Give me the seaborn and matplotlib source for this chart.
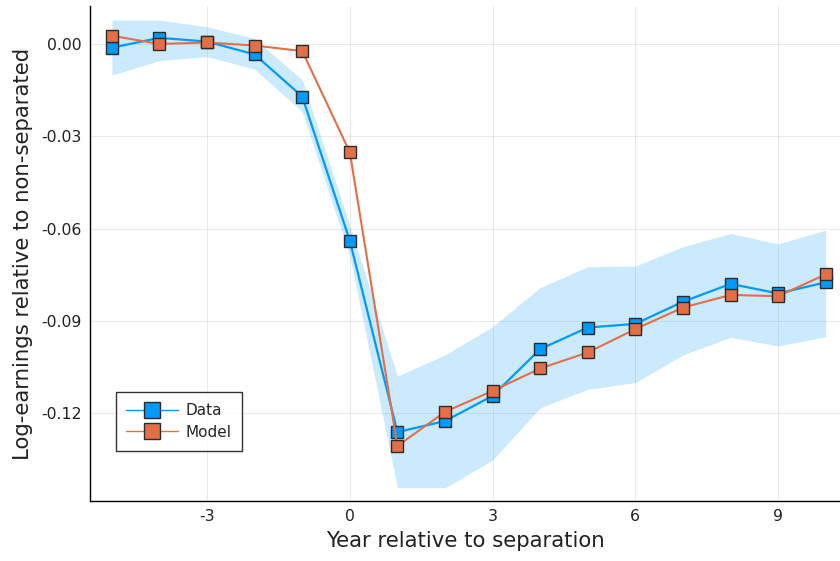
import numpy as np
import pandas as pd
import matplotlib
matplotlib.use("Agg")
import matplotlib.pyplot as plt
import seaborn as sns

years = [-5, -4, -3, -2, -1, 0, 1, 2, 3, 4, 5, 6, 7, 8, 9, 10]
data_vals = [-0.0012, 0.0020, 0.0008, -0.0034, -0.0171, -0.0640, -0.1262, -0.1226,
             -0.1144, -0.0992, -0.0922, -0.0910, -0.0838, -0.0780, -0.0811, -0.0775]
model_vals = [0.0027, 0.0000, 0.0005, -0.0005, -0.0023, -0.0352, -0.1307, -0.1196,
              -0.1128, -0.1055, -0.1003, -0.0927, -0.0857, -0.0816, -0.0820, -0.0749]
band_upper = [0.0078, 0.0078, 0.0056, 0.0018, -0.0117, -0.0590, -0.1080, -0.1011,
              -0.0919, -0.0792, -0.0724, -0.0722, -0.0659, -0.0616, -0.0650, -0.0605]
band_lower = [-0.0101, -0.0054, -0.0041, -0.0082, -0.0220, -0.0690, -0.1443, -0.1443,
              -0.1353, -0.1183, -0.1123, -0.1101, -0.1011, -0.0954, -0.0982, -0.0952]
xticks = [-3, 0, 3, 6, 9]
yticks = [0.00, -0.03, -0.06, -0.09, -0.12]
ytick_labels = ["0.00", "-0.03", "-0.06", "-0.09", "-0.12"]

blue = "#009AFA"
orange = "#E36F47"

sns.set_style("white")
plt.rcParams['font.family'] = ['DejaVu Sans']

fig = plt.figure(figsize=(8.4, 5.61), dpi=100)
ax = fig.add_axes([90/840, 60/561, 750/840, 495/561])

df = pd.DataFrame({"x": years, "data": data_vals, "model": model_vals,
                   "lo": band_lower, "hi": band_upper})

ax.fill_between(df["x"], df["lo"], df["hi"], color=blue, alpha=0.2, linewidth=0, zorder=1)

mk = dict(marker="s", markersize=8.5, markeredgecolor="#2b2b2b", markeredgewidth=1.0)
sns.lineplot(data=df, x="x", y="data", ax=ax, color=blue, linewidth=1.6,
             label="Data", zorder=3, **mk)
sns.lineplot(data=df, x="x", y="model", ax=ax, color=orange, linewidth=1.5,
             label="Model", zorder=4, **mk)

ax.set_xlim(-5.46, 10.3)
ax.set_ylim(-0.1486, 0.01236)
ax.set_xticks(xticks)
ax.set_xticklabels([str(t) for t in xticks])
ax.set_yticks(yticks)
ax.set_yticklabels(ytick_labels)
ax.grid(True, color="black", alpha=0.08, linewidth=0.8)
ax.tick_params(direction="in", length=4, width=0.8, labelsize=11.3, colors="#222222", pad=6)
for s in ["top", "right"]:
    ax.spines[s].set_visible(False)
for s in ["left", "bottom"]:
    ax.spines[s].set_color("black")
    ax.spines[s].set_linewidth(1.0)

ax.set_xlabel("Year relative to separation", fontsize=15.3, color="#222222", labelpad=5)
ax.set_ylabel("Log-earnings relative to non-separated", fontsize=15.3, color="#222222", labelpad=6)

leg = ax.legend(loc="lower left", bbox_to_anchor=(0.034, 0.102), fontsize=11,
                frameon=True, fancybox=False, numpoints=1, handlelength=3.4,
                borderpad=0.7, labelspacing=0.45, handletextpad=0.5, borderaxespad=0)
leg.get_frame().set_edgecolor("black")
leg.get_frame().set_linewidth(1.0)
for line in leg.get_lines():
    line.set_linewidth(1.0)
    line.set_markersize(11.5)

fig.savefig("out.png", dpi=100)
